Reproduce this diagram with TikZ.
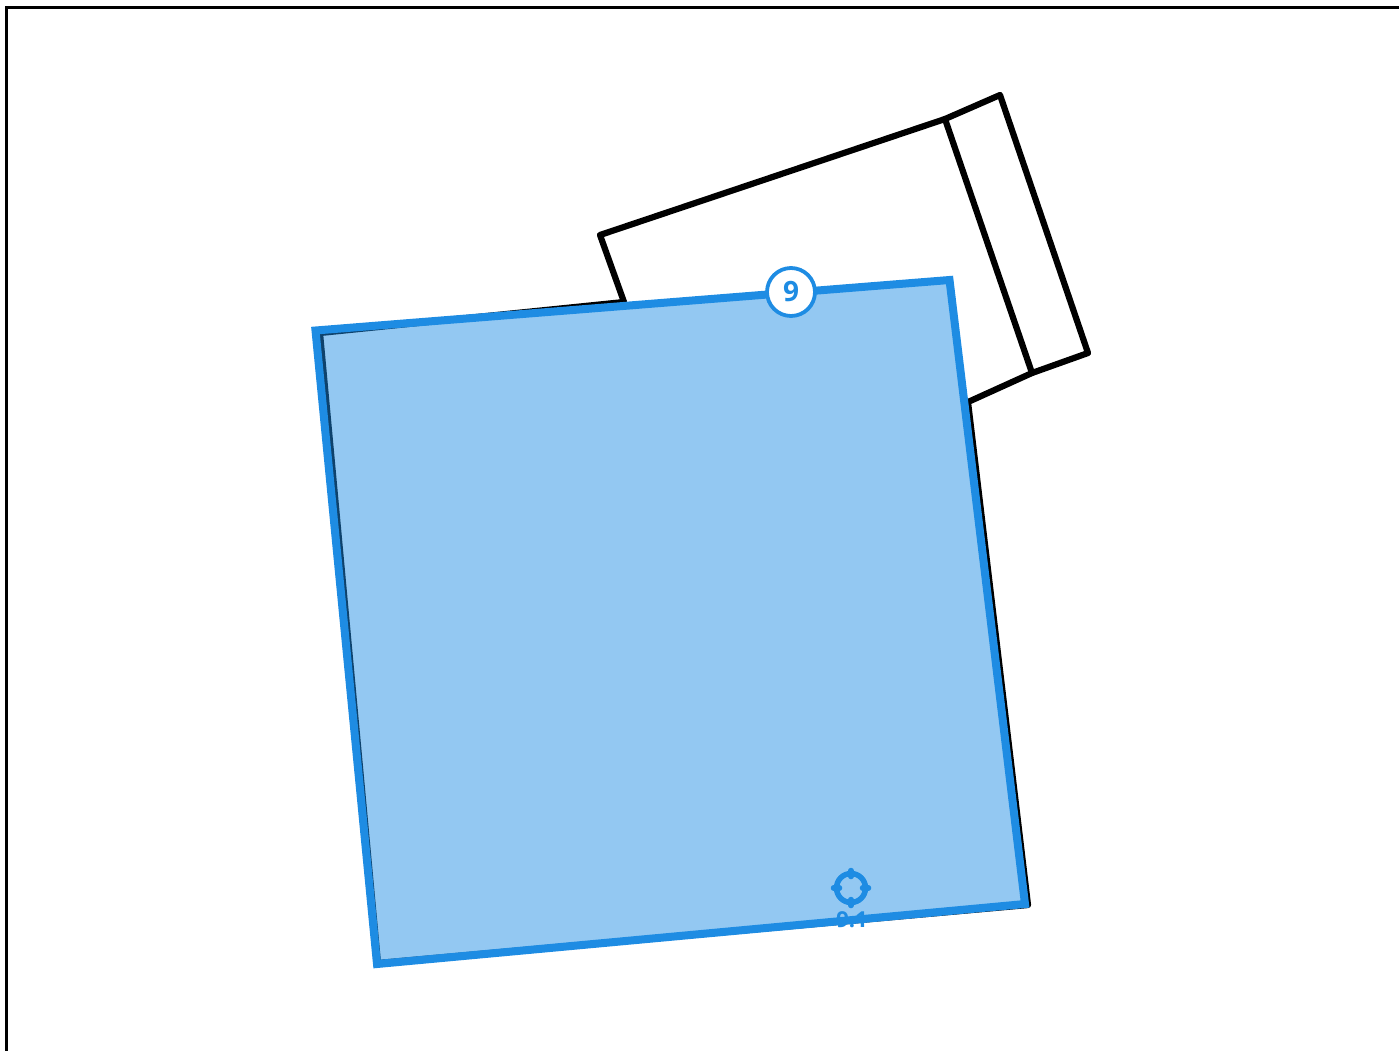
\documentclass[tikz,border=0pt]{standalone}
\usepackage{fontspec}
\setmainfont{Open Sans}
\usetikzlibrary{calc}
\definecolor{markblue}{HTML}{1E8CE3}
\tikzset{
  outline/.style={draw=black,line width=6.2pt,line join=round,line cap=round},
  zone/.style={draw=markblue,line width=8pt,line join=miter,fill=markblue,fill opacity=0.48},
  badge/.style={circle,draw=markblue,line width=3.8pt,fill=white,text=markblue,minimum size=48pt,inner sep=0pt,font=\fontsize{28}{28}\selectfont\bfseries},
  ring/.style={circle,draw=markblue,line width=5.5pt,minimum size=29pt,inner sep=0pt,outer sep=0pt},
  tick/.style={draw=markblue,line width=5.5pt,line cap=round},
  tag/.style={text=markblue,inner sep=0pt,font=\fontsize{22}{22}\selectfont\bfseries}
}
\begin{document}
\begin{tikzpicture}[x=1pt,y=-1pt]
\useasboundingbox (0,0) rectangle (1399,1050);
\coordinate (a) at (624,302);
\coordinate (b) at (600,235);
\coordinate (c) at (945,119);
\coordinate (d) at (1000,95);
\coordinate (e) at (1088,353);
\coordinate (f) at (1032,373);
\coordinate (g) at (968,402);
\coordinate (h) at (1028,905);
\coordinate (i) at (378,963);
\coordinate (j) at (320,333);
\coordinate (p) at (315.5,330.5);
\coordinate (q) at (949.5,280);
\coordinate (r) at (1025,904);
\coordinate (s) at (377,964);
% page frame
\draw[line width=3.4pt] (6.5,1060) -- (6.5,7.5) -- (1410,7.5);
% sheet behind
\draw[outline] (a) -- (b) -- (c) -- (d) -- (e) -- (f) -- (g) -- (h) -- (i) -- (j) -- cycle;
\draw[outline] (c) -- (f);
% selected zone
\node[tag] (lbl) at (852,920) {9.1};
\draw[zone] (p) -- (q) -- (r) -- (s) -- cycle;
\node[badge] (num) at (791,292) {9};
% target mark
\node[ring] (aim) at (851,888) {};
\foreach \ang in {0,90,180,270}
  \draw[tick] (aim.\ang) ++(\ang:-3) -- ++(\ang:6);
\end{tikzpicture}
\end{document}
